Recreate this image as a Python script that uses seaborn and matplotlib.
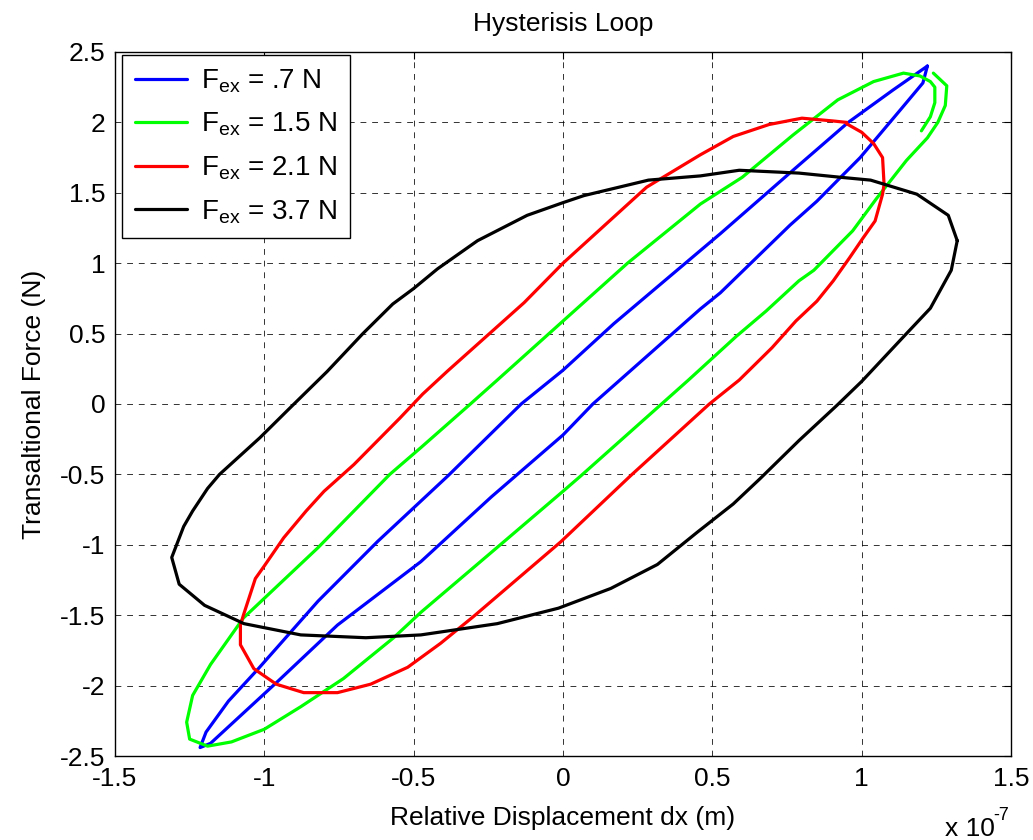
import matplotlib
matplotlib.use("Agg")
import matplotlib.pyplot as plt
import seaborn as sns
from matplotlib.ticker import FormatStrFormatter, MultipleLocator

# Hysteresis loops, displacement in units of 1e-7 m, force in N
blue_x = [1.22, 1.105, 0.955, 0.77, 0.527, 0.46, 0.17, 0.0, -0.14, -0.385, -0.476, -0.62, -0.82,
          -1.02, -1.12, -1.195, -1.215, -1.18, -0.955, -0.755, -0.476, -0.24, 0.0, 0.10, 0.46,
          0.527, 0.76, 0.85, 0.995, 1.13, 1.205, 1.22]
blue_y = [2.40, 2.23, 2.00, 1.66, 1.21, 1.09, 0.57, 0.24, 0.0, -0.51, -0.69, -0.975, -1.40,
          -1.88, -2.11, -2.33, -2.44, -2.41, -1.97, -1.57, -1.12, -0.66, -0.22, 0.0, 0.675,
          0.79, 1.27, 1.44, 1.75, 2.09, 2.28, 2.40]

green_x = [1.20, 1.23, 1.245, 1.245, 1.23, 1.195, 1.14, 1.04, 0.92, 0.77, 0.60, 0.46, 0.216, -0.01,
           -0.22, -0.31, -0.476, -0.58, -0.70, -0.82, -1.07, -1.18, -1.24, -1.26, -1.25, -1.19, -1.11,
           -1.0, -0.878, -0.735, -0.567, -0.476, -0.21, 0.0, 0.06, 0.33, 0.42, 0.58, 0.68, 0.79, 0.84,
           0.97, 1.05, 1.15, 1.22, 1.255, 1.28, 1.285, 1.24]
green_y = [1.94, 2.04, 2.14, 2.25, 2.29, 2.33, 2.35, 2.29, 2.16, 1.91, 1.61, 1.42, 1.0, 0.57,
           0.17, 0.0, -0.31, -0.50, -0.76, -1.02, -1.52, -1.85, -2.07, -2.26, -2.38, -2.43, -2.40,
           -2.31, -2.15, -1.95, -1.66, -1.48, -1.0, -0.62, -0.51, 0.0, 0.17, 0.48, 0.66, 0.875, 0.95,
           1.23, 1.46, 1.73, 1.89, 2.0, 2.12, 2.26, 2.35]

red_x = [0.95, 0.905, 0.80, 0.69, 0.57, 0.46, 0.28, 0.0, -0.13, -0.386, -0.47, -0.546, -0.70, -0.80,
         -0.86, -0.935, -1.0, -1.03, -1.07, -1.08, -1.08, -1.035, -0.96, -0.868, -0.755, -0.644, -0.52,
         -0.41, -0.30, -0.008, 0.226, 0.49, 0.59, 0.70, 0.78, 0.85, 0.905, 0.96, 1.005, 1.045, 1.07,
         1.075, 1.07, 1.04, 1.0, 0.95]
red_y = [2.0, 2.01, 2.03, 1.985, 1.90, 1.77, 1.54, 1.0, 0.72, 0.235, 0.07, -0.10, -0.43, -0.62,
         -0.76, -0.95, -1.15, -1.24, -1.50, -1.57, -1.71, -1.88, -1.99, -2.05, -2.05, -1.99, -1.87,
         -1.70, -1.51, -0.98, -0.51, 0.0, 0.17, 0.40, 0.59, 0.73, 0.875, 1.04, 1.18, 1.30, 1.49,
         1.56, 1.75, 1.85, 1.93, 1.99]

black_x = [1.32, 1.29, 1.185, 1.03, 0.93, 0.79, 0.59, 0.46, 0.286, 0.07, 0.0, -0.12, -0.286, -0.42,
           -0.50, -0.57, -0.67, -0.79, -0.915, -1.015, -1.15, -1.19, -1.24, -1.27, -1.31, -1.285, -1.20,
           -1.068, -0.878, -0.66, -0.476, -0.22, -0.015, 0.16, 0.316, 0.45, 0.57, 0.66, 0.79, 0.917,
           1.0, 1.15, 1.23, 1.30, 1.32]
black_y = [1.16, 1.34, 1.49, 1.59, 1.61, 1.64, 1.66, 1.62, 1.59, 1.48, 1.43, 1.34, 1.16, 0.96,
           0.82, 0.71, 0.50, 0.23, -0.03, -0.24, -0.50, -0.60, -0.76, -0.87, -1.09, -1.28, -1.43,
           -1.56, -1.64, -1.66, -1.64, -1.56, -1.45, -1.31, -1.14, -0.91, -0.71, -0.53, -0.26, -0.01,
           0.16, 0.50, 0.68, 0.95, 1.16]

labels = ["F$_{ex}$ = .7 N", "F$_{ex}$ = 1.5 N", "F$_{ex}$ = 2.1 N", "F$_{ex}$ = 3.7 N"]
colors = ["#0000ff", "#00ff00", "#ff0000", "#000000"]


def plot():
    sns.set_theme(style="white")
    plt.rcParams["font.family"] = ["Liberation Sans", "DejaVu Sans"]
    plt.rcParams["mathtext.default"] = "regular"
    plt.rcParams["axes.unicode_minus"] = False
    plt.rcParams["text.color"] = "black"
    plt.rcParams["axes.labelcolor"] = "black"
    fs = 19

    fig = plt.figure(figsize=(10.33, 8.4), dpi=100)
    ax = fig.add_axes([0.1113, 0.1, 0.8674, 0.8381])

    loops = [(blue_x, blue_y), (green_x, green_y), (red_x, red_y), (black_x, black_y)]
    for (xs, ys), lab, col in zip(loops, labels, colors):
        sns.lineplot(x=xs, y=ys, sort=False, estimator=None, color=col,
                     linewidth=2.3, label=lab, ax=ax)

    ax.set_xlim(-1.5, 1.5)
    ax.set_ylim(-2.5, 2.5)
    ax.xaxis.set_major_locator(MultipleLocator(0.5))
    ax.yaxis.set_major_locator(MultipleLocator(0.5))
    ax.xaxis.set_major_formatter(FormatStrFormatter("%g"))
    ax.yaxis.set_major_formatter(FormatStrFormatter("%g"))
    ax.tick_params(direction="in", top=True, right=True, length=5, width=0.8,
                   labelsize=fs, colors="black")
    ax.tick_params(axis="x", pad=8)
    ax.tick_params(axis="y", pad=7)
    ax.grid(True, color="black", linestyle=(0, (6, 6)), linewidth=0.7, alpha=0.8)
    for sp in ax.spines.values():
        sp.set_color("black")
        sp.set_linewidth(1.0)

    ax.set_title("Hysterisis Loop", fontsize=fs, pad=15)
    ax.set_xlabel("Relative Displacement dx (m)", fontsize=fs, labelpad=11)
    ax.set_ylabel("Transaltional Force (N)", fontsize=fs, labelpad=10)
    fig.text(945 / 1033, 1 - 836 / 840, "x 10", fontsize=fs, ha="left", va="baseline")
    fig.text(993 / 1033, 1 - 820 / 840, "-7", fontsize=13, ha="left", va="baseline")

    leg = ax.legend(loc="upper left", bbox_to_anchor=(0.008, 0.996), borderaxespad=0,
                    fontsize=20, frameon=True, fancybox=False, framealpha=1,
                    edgecolor="black", handlelength=1.9, handletextpad=0.5,
                    labelspacing=0.58, borderpad=0.45)
    leg.get_frame().set_linewidth(1.0)

    fig.savefig("out.png", dpi=100)


plot()
